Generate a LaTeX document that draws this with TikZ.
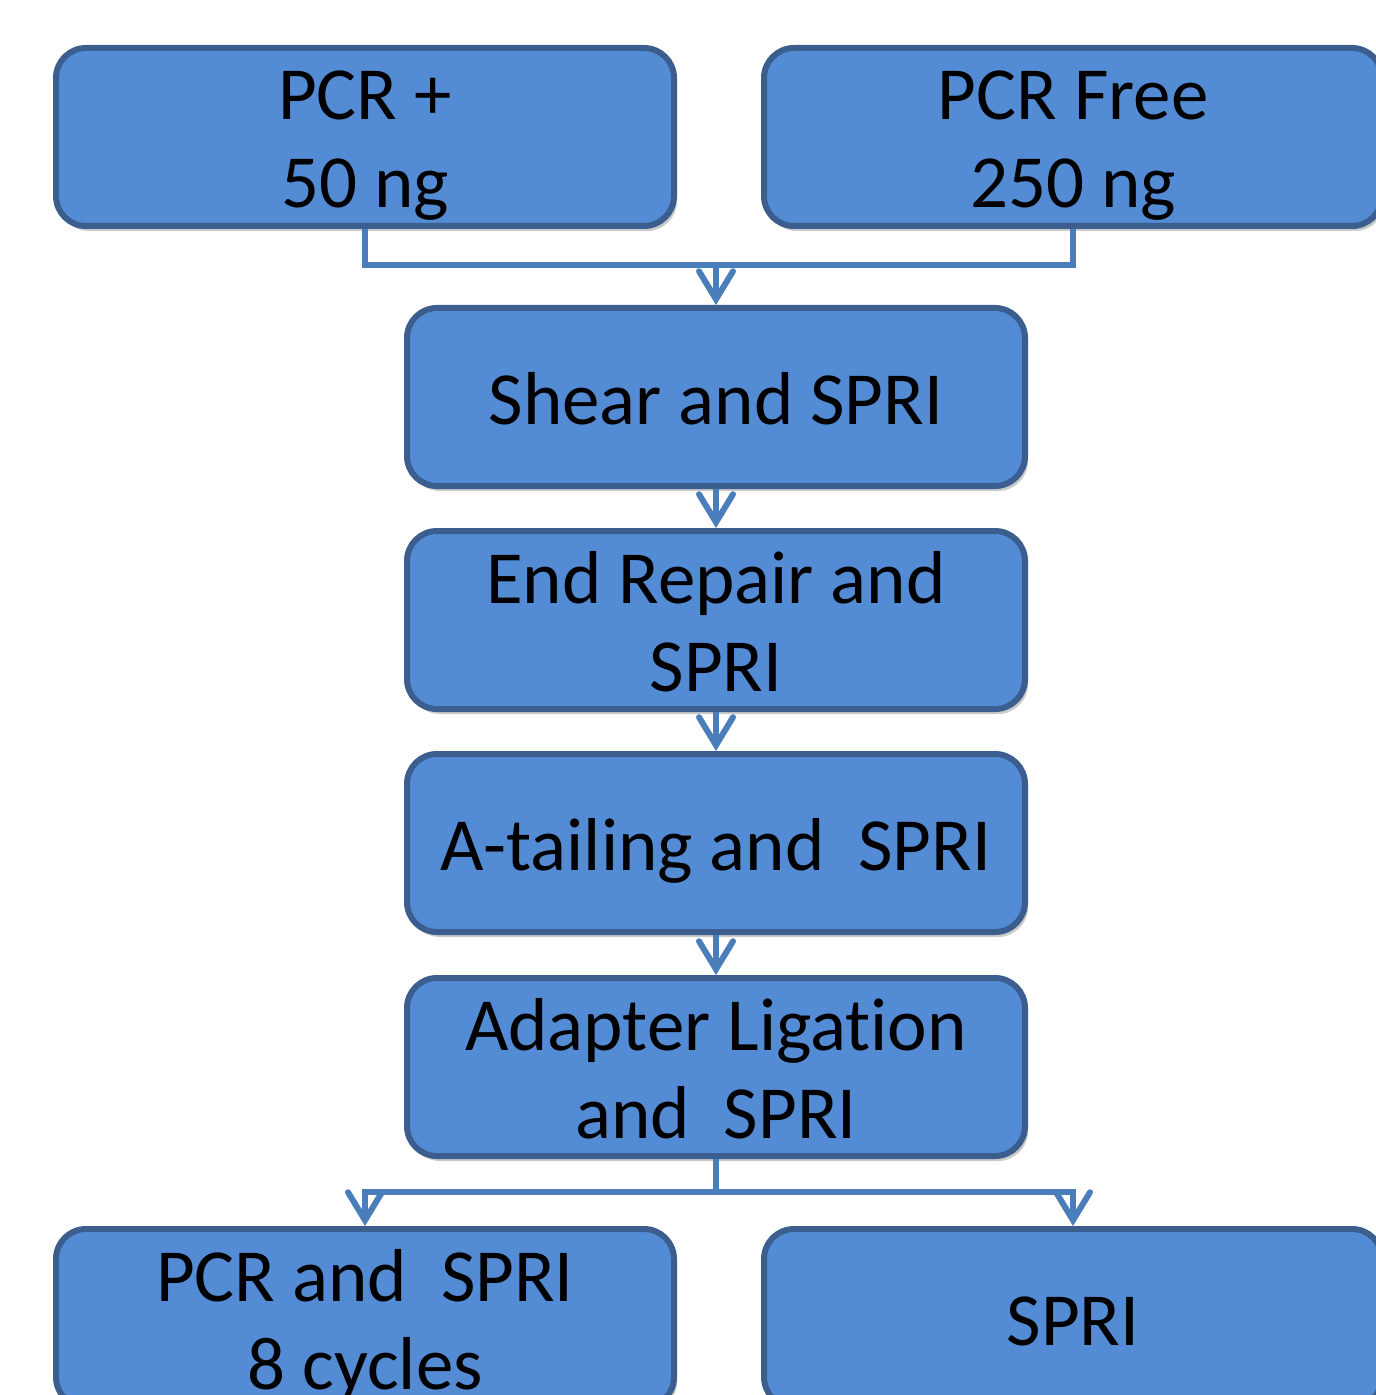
\documentclass[tikz,border=0pt]{standalone}
\usepackage{fontspec}
\setmainfont{Carlito}[Ligatures=NoCommon]
\usetikzlibrary{arrows.meta,shadows}
\definecolor{boxfill}{HTML}{538CD5}
\definecolor{boxline}{HTML}{3B5E8E}
\definecolor{linkcol}{HTML}{4A7EBB}
\newcommand{\boxstrut}{\rule[-9pt]{0pt}{45pt}}
\begin{document}
\begin{tikzpicture}[x=0.5pt,y=-0.5pt,
    stepbox/.style={draw=boxline,fill=boxfill,line width=3pt,rounded corners=15pt,
        minimum width=309pt,minimum height=89pt,inner ysep=0pt,align=center,
        font=\fontsize{37.5pt}{44pt}\selectfont,
        execute at begin node=\boxstrut,execute at end node=\boxstrut,
        drop shadow={shadow xshift=1.5pt,shadow yshift=-2.5pt,opacity=0.35,fill=black!60}},
    link/.style={draw=linkcol,line width=3pt},
    flow/.style={link,-{Straight Barb[length=14pt,width=17pt,line cap=round]}}]
    \useasboundingbox (0,0) rectangle (1375,1395);
    % inputs
    \node[stepbox] (pcrplus) at (365,137) {\boxstrut PCR +\\50 ng};
    \node[stepbox] (pcrfree) at (1073,137) {\boxstrut PCR Free\\250 ng};
    % library steps
    \node[stepbox] (shear) at (716,397) {Shear and SPRI};
    \node[stepbox] (endrep) at (716,620) {\boxstrut End Repair and\\SPRI};
    \node[stepbox] (atail) at (716,843) {A-tailing and\ \ SPRI};
    \node[stepbox] (adapt) at (716,1067) {\boxstrut Adapter Ligation\\and\ \ SPRI};
    % outputs
    \node[stepbox] (pcrspri) at (365,1318) {\boxstrut PCR and\ \ SPRI\\8 cycles};
    \node[stepbox] (spri) at (1073,1318) {SPRI};
    \coordinate (join) at (716,265);
    \coordinate (split) at (716,1192);
    \draw[link] (pcrplus.south) |- (join) -| (pcrfree.south);
    \draw[flow] (join) -- (shear.north);
    \draw[flow] (shear) -- (endrep);
    \draw[flow] (endrep) -- (atail);
    \draw[flow] (atail) -- (adapt);
    \draw[link] (adapt.south) -- (split);
    \draw[flow] (split) -| (pcrspri.north);
    \draw[flow] (split) -| (spri.north);
\end{tikzpicture}
\end{document}
